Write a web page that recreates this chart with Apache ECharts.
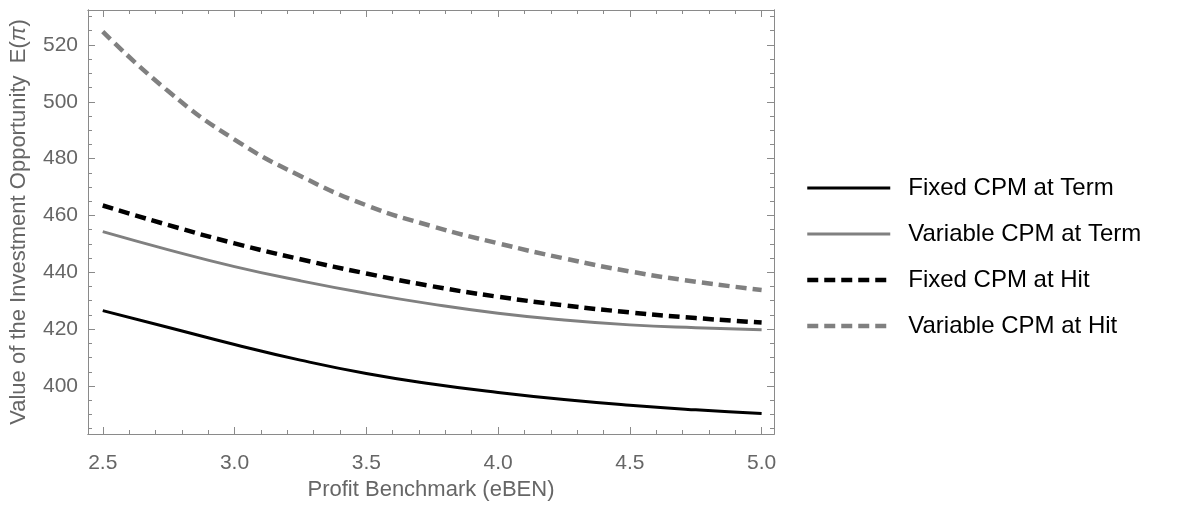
<!DOCTYPE html>
<html>
<head>
<meta charset="utf-8">
<script src="https://cdn.jsdelivr.net/npm/echarts@6/dist/echarts.min.js"></script>
<style>
html,body{margin:0;padding:0;background:#fff;}
#chart{width:1184px;height:510px;}
</style>
</head>
<body>
<div id="chart"></div>
<script>
// ---- data ----
const benchmark = [2.5, 2.75, 3.0, 3.25, 3.5, 3.75, 4.0, 4.25, 4.5, 4.75, 5.0];
const fixedTerm = [426.5, 420.6, 414.6, 409.1, 404.4, 400.7, 397.7, 395.2, 393.2, 391.6, 390.3];
const variableTerm = [454.3, 447.9, 442.0, 437.0, 432.6, 428.8, 425.6, 423.2, 421.5, 420.5, 419.8];
const fixedHit = [463.5, 456.6, 450.2, 444.6, 439.6, 435.1, 431.4, 428.4, 425.9, 423.9, 422.3];
const variableHit = [524.7, 503.6, 486.7, 473.9, 463.6, 456.2, 450.2, 444.9, 440.3, 436.7, 433.8];
const seriesNames = ['Fixed CPM at Term', 'Variable CPM at Term', 'Fixed CPM at Hit', 'Variable CPM at Hit'];
const xMajorTicks = [2.5, 3.0, 3.5, 4.0, 4.5, 5.0];
const xMinorTicks = [2.5,2.6,2.7,2.8,2.9,3.0,3.1,3.2,3.3,3.4,3.5,3.6,3.7,3.8,3.9,4.0,4.1,4.2,4.3,4.4,4.5,4.6,4.7,4.8,4.9,5.0];
const yMajorTicks = [400, 420, 440, 460, 480, 500, 520];
const yMinorTicks = [385,390,395,400,405,410,415,420,425,430,435,440,445,450,455,460,465,470,475,480,485,490,495,500,505,510,515,520,525,530];
const xTitle = 'Profit Benchmark (eBEN)';
const yTitleMain = 'Value of the Investment Opportunity';
const yTitleSym = 'E(π)';

const X_MIN = 2.444, X_MAX = 5.047, Y_MIN = 383.1, Y_MAX = 532.3;
const frameColor = '#8a8a8a';
const labelColor = '#666666';
const FONT = '"Liberation Sans", Arial, Helvetica, sans-serif';

function pairs(ys){ return benchmark.map((x,i)=>[x, ys[i]]); }

function xAx(pos, ticks, len, labels, extra){
  return Object.assign({
    type:'value', position:pos, min:X_MIN, max:X_MAX,
    axisLine:{show:true, onZero:false, lineStyle:{color:frameColor, width:1}},
    axisTick:{show:true, inside:true, length:len, customValues:ticks, lineStyle:{color:frameColor, width:1}},
    axisLabel:labels ? {show:true, customValues:xMajorTicks, formatter:v=>Number(v).toFixed(1), color:labelColor, fontSize:21, fontFamily:FONT, margin:19} : {show:false},
    splitLine:{show:false}
  }, extra||{});
}
function yAx(pos, ticks, len, labels, extra){
  return Object.assign({
    type:'value', position:pos, min:Y_MIN, max:Y_MAX,
    axisLine:{show:true, onZero:false, lineStyle:{color:frameColor, width:1}},
    axisTick:{show:true, inside:true, length:len, customValues:ticks, lineStyle:{color:frameColor, width:1}},
    axisLabel:labels ? {show:true, customValues:yMajorTicks, formatter:v=>String(Math.round(v)), color:labelColor, fontSize:21, fontFamily:FONT, margin:10} : {show:false},
    splitLine:{show:false}
  }, extra||{});
}

const chart = echarts.init(document.getElementById('chart'), null, {renderer:'canvas'});
const lineCommon = {type:'line', showSymbol:false, symbol:'none', smooth:true, xAxisIndex:0, yAxisIndex:0, animation:false};
const styles = [
  {color:'#000000', width:3, type:'solid'},
  {color:'#808080', width:3, type:'solid'},
  {color:'#000000', width:4.5, type:[11,6]},
  {color:'#808080', width:4.5, type:[11,6]}
];
const dataSets = [fixedTerm, variableTerm, fixedHit, variableHit];
chart.setOption({
  animation:false,
  backgroundColor:'#ffffff',
  grid:{left:88, right:410, top:10, bottom:76, containLabel:false},
  legend:{
    orient:'vertical', left:800, top:168,
    itemWidth:83, itemHeight:2, itemGap:16,
    itemStyle:{opacity:0},
    textStyle:{fontSize:24, fontFamily:FONT, color:'#000', lineHeight:30, padding:[0,0,0,13]},
    data:seriesNames.map((n,i)=>({name:n, lineStyle:{width:styles[i].width, color:styles[i].color, type:styles[i].type}}))
  },
  xAxis:[
    xAx('bottom', xMajorTicks, 7, true, {name:xTitle, nameLocation:'middle', nameGap:42, nameTextStyle:{color:labelColor, fontSize:22, fontFamily:FONT}}),
    xAx('top', xMajorTicks, 7, false),
    xAx('bottom', xMinorTicks, 4, false),
    xAx('top', xMinorTicks, 4, false)
  ],
  yAxis:[
    yAx('left', yMajorTicks, 7, true, {
      name:'{a|' + yTitleMain + '}{s|  E(}{p|π}{s|)}', nameLocation:'middle', nameGap:58, nameRotate:90,
      nameTextStyle:{color:labelColor, fontSize:22, fontFamily:FONT,
        rich:{a:{color:labelColor, fontSize:22, fontFamily:FONT}, s:{color:labelColor, fontSize:22, fontFamily:FONT}, p:{color:labelColor, fontSize:22, fontFamily:FONT, fontStyle:'italic'}}}
    }),
    yAx('right', yMajorTicks, 7, false),
    yAx('left', yMinorTicks, 4, false),
    yAx('right', yMinorTicks, 4, false)
  ],
  series:seriesNames.map((n,i)=>Object.assign({}, lineCommon, {name:n, data:pairs(dataSets[i]), lineStyle:styles[i], itemStyle:{color:styles[i].color}}))
});
</script>
</body>
</html>
